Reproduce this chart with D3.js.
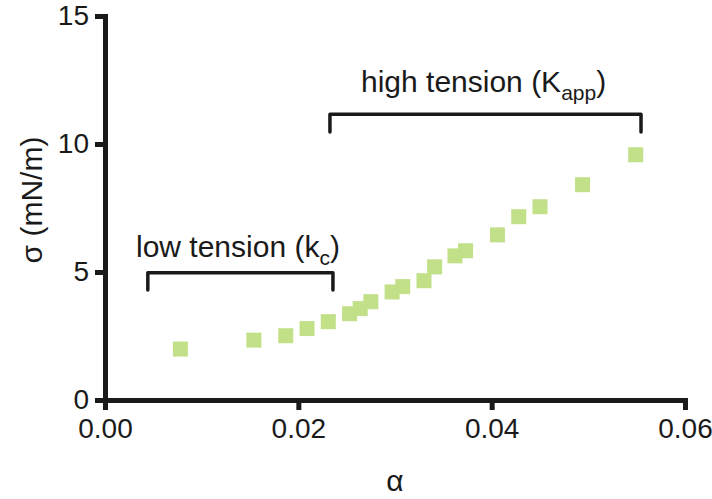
<!DOCTYPE html>
<html>
<head>
<meta charset="utf-8">
<script src="https://cdn.jsdelivr.net/npm/d3@7"></script>
<style>
  html, body { margin: 0; padding: 0; background: #ffffff; }
  svg { display: block; font-family: "Liberation Sans", Arial, Helvetica, sans-serif; }
</style>
</head>
<body>
<svg id="chart" width="712" height="499"></svg>
<script>
// ---- data ----
const alphaValues = [0.0078, 0.0154, 0.0187, 0.0209, 0.0231, 0.0253, 0.0264, 0.0275, 0.0297, 0.0308, 0.0330, 0.0341, 0.0362, 0.0373, 0.0406, 0.0428, 0.0450, 0.0494, 0.0549];
const sigmaValues = [1.99, 2.34, 2.51, 2.79, 3.06, 3.37, 3.57, 3.84, 4.22, 4.43, 4.66, 5.20, 5.63, 5.83, 6.45, 7.16, 7.55, 8.41, 9.58];
const xTicks = [0, 0.02, 0.04, 0.06];
const xTickLabels = ["0.00", "0.02", "0.04", "0.06"];
const yTicks = [0, 5, 10, 15];
const yTickLabels = ["0", "5", "10", "15"];
const xTitle = "α";
const yTitle = "σ (mN/m)";
const lowLabel = ["low tension (k", "c", ")"];
const highLabel = ["high tension (K", "app", ")"];
// bracket spans in data units [x0, x1, yTop, yBottom]
const lowBracket = [0.00443, 0.02358, 4.97, 4.30];
const highBracket = [0.02327, 0.05545, 11.16, 10.47];

const ink = "#1a1a1a";
const green = "#c1e088";

const svg = d3.select("#chart");
const x = d3.scaleLinear().domain([0, 0.06]).range([105, 685]);
const y = d3.scaleLinear().domain([0, 15]).range([400, 16]);

// points
svg.append("g").selectAll("rect")
  .data(alphaValues.map((a, i) => [a, sigmaValues[i]]))
  .join("rect")
  .attr("x", d => x(d[0]) - 7.5)
  .attr("y", d => y(d[1]) - 7.5)
  .attr("width", 15)
  .attr("height", 15)
  .attr("fill", green);

// axes
const xAxis = d3.axisBottom(x).tickValues(xTicks)
  .tickFormat((d, i) => xTickLabels[i]).tickSizeInner(10).tickSizeOuter(0).tickPadding(8);
const yAxis = d3.axisLeft(y).tickValues(yTicks)
  .tickFormat((d, i) => yTickLabels[i]).tickSizeInner(10).tickSizeOuter(0).tickPadding(6);

const gx = svg.append("g").attr("transform", "translate(0,400)").call(xAxis);
const gy = svg.append("g").attr("transform", "translate(105,0)").call(yAxis);

[gx, gy].forEach(g => {
  g.select(".domain").attr("stroke", ink).attr("stroke-width", 5).attr("stroke-linecap", "square");
  g.selectAll(".tick line").attr("stroke", ink).attr("stroke-width", 5);
  g.selectAll(".tick text").attr("fill", ink).style("font-size", "28px")
    .style("font-family", "'Liberation Sans', Arial, sans-serif");
});

// axis titles
svg.append("text")
  .attr("x", (x.range()[0] + x.range()[1]) / 2)
  .attr("y", 491)
  .attr("text-anchor", "middle")
  .attr("fill", ink)
  .style("font-size", "30px")
  .text(xTitle);

svg.append("text")
  .attr("transform", "translate(42," + 200 + ") rotate(-90)")
  .attr("text-anchor", "middle")
  .attr("fill", ink)
  .style("font-size", "30px")
  .text(yTitle);

// brackets
function bracket(b) {
  const p = d3.path();
  p.moveTo(x(b[0]), y(b[3]));
  p.lineTo(x(b[0]), y(b[2]));
  p.lineTo(x(b[1]), y(b[2]));
  p.lineTo(x(b[1]), y(b[3]));
  svg.append("path")
    .attr("d", p.toString())
    .attr("fill", "none")
    .attr("stroke", ink)
    .attr("stroke-width", 3.5)
    .attr("stroke-linecap", "round")
    .attr("stroke-linejoin", "round");
}
bracket(lowBracket);
bracket(highBracket);

// labels with subscripts
function label(parts, x0, yBase) {
  const t = svg.append("text")
    .attr("x", x0).attr("y", yBase)
    .attr("fill", ink)
    .style("font-size", "30px");
  t.append("tspan").text(parts[0]);
  t.append("tspan").attr("dy", 8).style("font-size", "21px").text(parts[1]);
  t.append("tspan").attr("dy", -8).text(parts[2]);
}
label(lowLabel, 136, 257);
label(highLabel, 361, 92);
</script>
</body>
</html>
